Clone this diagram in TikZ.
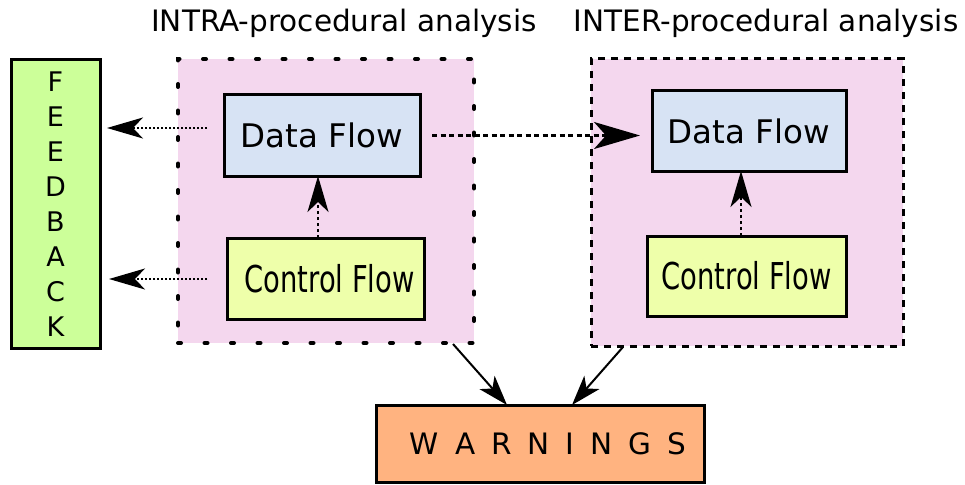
\documentclass[tikz,border=0pt]{standalone}
\usepackage{fontspec}
\setmainfont{DejaVu Sans}
\usetikzlibrary{arrows.meta,calc}
\definecolor{pinkbg}{HTML}{F4D7EE}
\definecolor{bluebox}{HTML}{D7E3F4}
\definecolor{yelbox}{HTML}{EEFFAA}
\definecolor{greenbox}{HTML}{CCFF99}
\definecolor{orangebox}{HTML}{FFB380}
\tikzset{
  every node/.style={outer sep=0pt, inner sep=0pt},
  box/.style={draw=black, line width=3pt, rectangle},
  dotcont/.style={fill=pinkbg, draw=black, line width=4pt, line cap=round, dash pattern=on 3pt off 23.5pt},
  dashcont/.style={fill=pinkbg, draw=black, line width=3pt, dash pattern=on 7pt off 6pt},
  title/.style={font=\fontsize{29.5}{34}\selectfont, anchor=base},
  boxtext/.style={font=\fontsize{32.5}{38}\selectfont},
  cftext/.style={font=\fontsize{37}{42}\selectfont},
  bigtip/.style={-{Stealth[length=36pt,width=21pt,inset=10pt]}},
  fbarrow/.style={bigtip, line width=2pt, dash pattern=on 2pt off 2pt},
  vdash/.style={bigtip, line width=2pt, dash pattern=on 3.5pt off 2.5pt},
  hdash/.style={-{Stealth[length=46pt,width=27pt,inset=12pt]}, line width=2.5pt, dash pattern=on 5pt off 3.5pt},
  warnarrow/.style={-{Stealth[length=30pt,width=20pt,inset=8pt]}, line width=2pt},
}
\newcommand{\cfl}{\scalebox{0.74}[1]{Control Flow}}
\begin{document}
\begin{tikzpicture}[x=1pt,y=-1pt]
\useasboundingbox (0,0) rectangle (965,484);
% titles
\node[title] (t1) at (344,32) {INTRA-procedural analysis};
\node[title] (t2) at (766,32) {INTER-procedural analysis};
% containers
\node[dotcont, minimum width=296pt, minimum height=284pt] (intra) at (326,201) {};
\node[dashcont, minimum width=312pt, minimum height=287pt] (inter) at (747,202.5) {};
% feedback
\node[box, fill=greenbox, minimum width=89pt, minimum height=288pt, align=center,
      font=\fontsize{27}{35}\selectfont] (fb) at (55.5,204) {F\\E\\E\\D\\B\\A\\C\\K};
% inner boxes
\node[box, fill=bluebox, minimum width=196pt, minimum height=81pt, boxtext] (dfl) at (322,135.5) {Data Flow};
\node[box, fill=yelbox, minimum width=197pt, minimum height=81pt, cftext] (cfl) at (325.5,278.5) {\hspace{8pt}\cfl};
\node[box, fill=bluebox, minimum width=194pt, minimum height=80pt, boxtext] (dfr) at (749,131) {Data Flow};
\node[box, fill=yelbox, minimum width=199pt, minimum height=80pt, cftext] (cfr) at (746.5,276) {\cfl};
% warnings
\node[box, fill=orangebox, minimum width=328pt, minimum height=77pt, font=\fontsize{29.5}{34}\selectfont] (warn) at (540,443.5)
  {\hspace{16pt}W\kern16pt A\kern16pt R\kern16pt N\kern16pt I\kern16pt N\kern16pt G\kern16pt S};
% helper coordinates
\coordinate (a1) at (207,128);
\coordinate (a2) at (207,279);
\coordinate (xl) at (318,0);
\coordinate (xr) at (741,0);
% feedback arrows
\draw[fbarrow, shorten >=7pt] (a1) -- (fb.east |- a1);
\draw[fbarrow, shorten >=9pt] (a2) -- (fb.east |- a2);
% vertical arrows
\draw[vdash] (cfl.north -| xl) -- (dfl.south -| xl);
\draw[vdash] (cfr.north -| xr) -- (dfr.south -| xr);
% horizontal arrow
\draw[hdash] ([xshift=12pt]dfl.east) -- ([xshift=-12pt]dfr.west |- dfl.east);
% warnings arrows
\draw[warnarrow] ([xshift=-21pt,yshift=-1pt]intra.south east) -- ([xshift=-33pt]warn.north);
\draw[warnarrow] ([xshift=32pt,yshift=-1pt]inter.south west) -- ([xshift=32pt]warn.north);
\end{tikzpicture}
\end{document}
